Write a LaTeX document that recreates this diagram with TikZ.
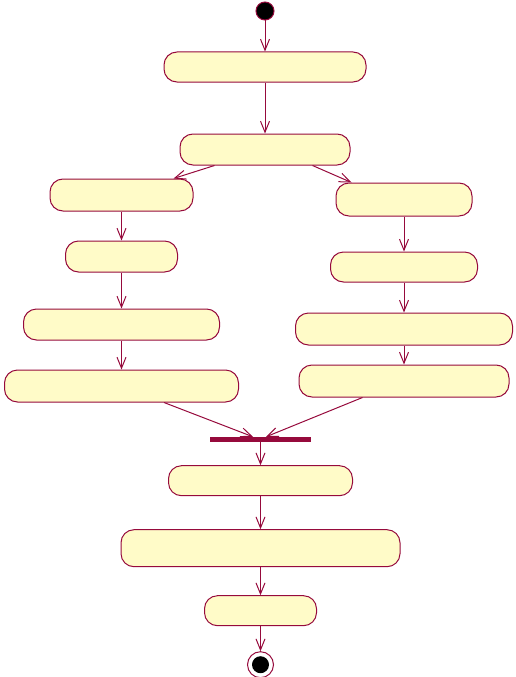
\documentclass[tikz,border=0pt]{standalone}
\usepackage{xcolor}
\usepackage{tikz}
\usetikzlibrary{arrows.meta,positioning}
\definecolor{umlline}{RGB}{150,10,60}
\definecolor{umlfill}{RGB}{255,251,200}

\begin{document}
\begin{tikzpicture}[x=1pt,y=-1pt,
  act/.style={draw=umlline,fill=umlfill,line width=1pt,rounded corners=13pt,inner sep=0pt,minimum height=31pt},
  initial/.style={circle,draw=umlline,fill=black,line width=1pt,inner sep=0pt,minimum size=18pt},
  final/.style={circle,draw=umlline,fill=white,line width=1pt,inner sep=0pt,minimum size=26pt,
    path picture={\fill[black] (path picture bounding box.center) circle (8.5pt);}},
  sync/.style={fill=umlline,inner sep=0pt,minimum width=101pt,minimum height=5pt},
  flow/.style={draw=umlline,line width=1pt,-{Straight Barb[length=11pt,width=9pt]}}]
\useasboundingbox (0,0) rectangle (516,677);
% top
\node[initial] (start) at (265,11) {};
\node[act,minimum width=202pt,minimum height=30pt] (a1) at (265,67) {};
\node[act,minimum width=170pt,below=51pt of a1] (a2) {};
% left branch
\node[act,minimum width=143pt,minimum height=32pt] (l1) at (121.5,195) {};
\node[act,minimum width=112pt,below=29pt of l1] (l2) {};
\node[act,minimum width=196pt,below=36pt of l2] (l3) {};
\node[act,minimum width=234pt,minimum height=32pt,below=29pt of l3] (l4) {};
% right branch
\node[act,minimum width=136pt,minimum height=33pt] (r1) at (404,199.5) {};
\node[act,minimum width=147pt,minimum height=30pt,below=35pt of r1] (r2) {};
\node[act,minimum width=217pt,minimum height=32pt,below=30pt of r2] (r3) {};
\node[act,minimum width=210pt,minimum height=32pt,below=19pt of r3] (r4) {};
% join and bottom
\node[sync] (join) at (260.5,439.5) {};
\node[act,minimum width=184pt,minimum height=30pt,below=23pt of join] (b1) {};
\node[act,minimum width=279pt,minimum height=37pt,below=33pt of b1] (b2) {};
\node[act,minimum width=112pt,minimum height=30pt,below=28pt of b2] (b3) {};
\node[final,below=25pt of b3] (stop) {};

\draw[flow] (start.south) -- (a1.north);
\draw[flow] (a1.south) -- (a2.north);
\draw[flow] ([xshift=35pt]a2.south west) -- ([xshift=-20pt]l1.north east);
\draw[flow] ([xshift=-38pt]a2.south east) -- ([xshift=16pt]r1.north west);
\draw[flow] (l1.south) -- (l2.north);
\draw[flow] (l2.south) -- (l3.north);
\draw[flow] (l3.south) -- (l4.north);
\draw[flow] (r1.south) -- (r2.north);
\draw[flow] (r2.south) -- (r3.north);
\draw[flow] (r3.south) -- (r4.north);
\draw[flow] ([xshift=-75pt]l4.south east) -- ([xshift=-7.5pt]join.north);
\draw[flow] ([xshift=64pt]r4.south west) -- ([xshift=5.5pt]join.north);
\draw[flow] (join.south) -- (b1.north);
\draw[flow] (b1.south) -- (b2.north);
\draw[flow] (b2.south) -- (b3.north);
\draw[flow] (b3.south) -- (stop.north);
\end{tikzpicture}
\end{document}
